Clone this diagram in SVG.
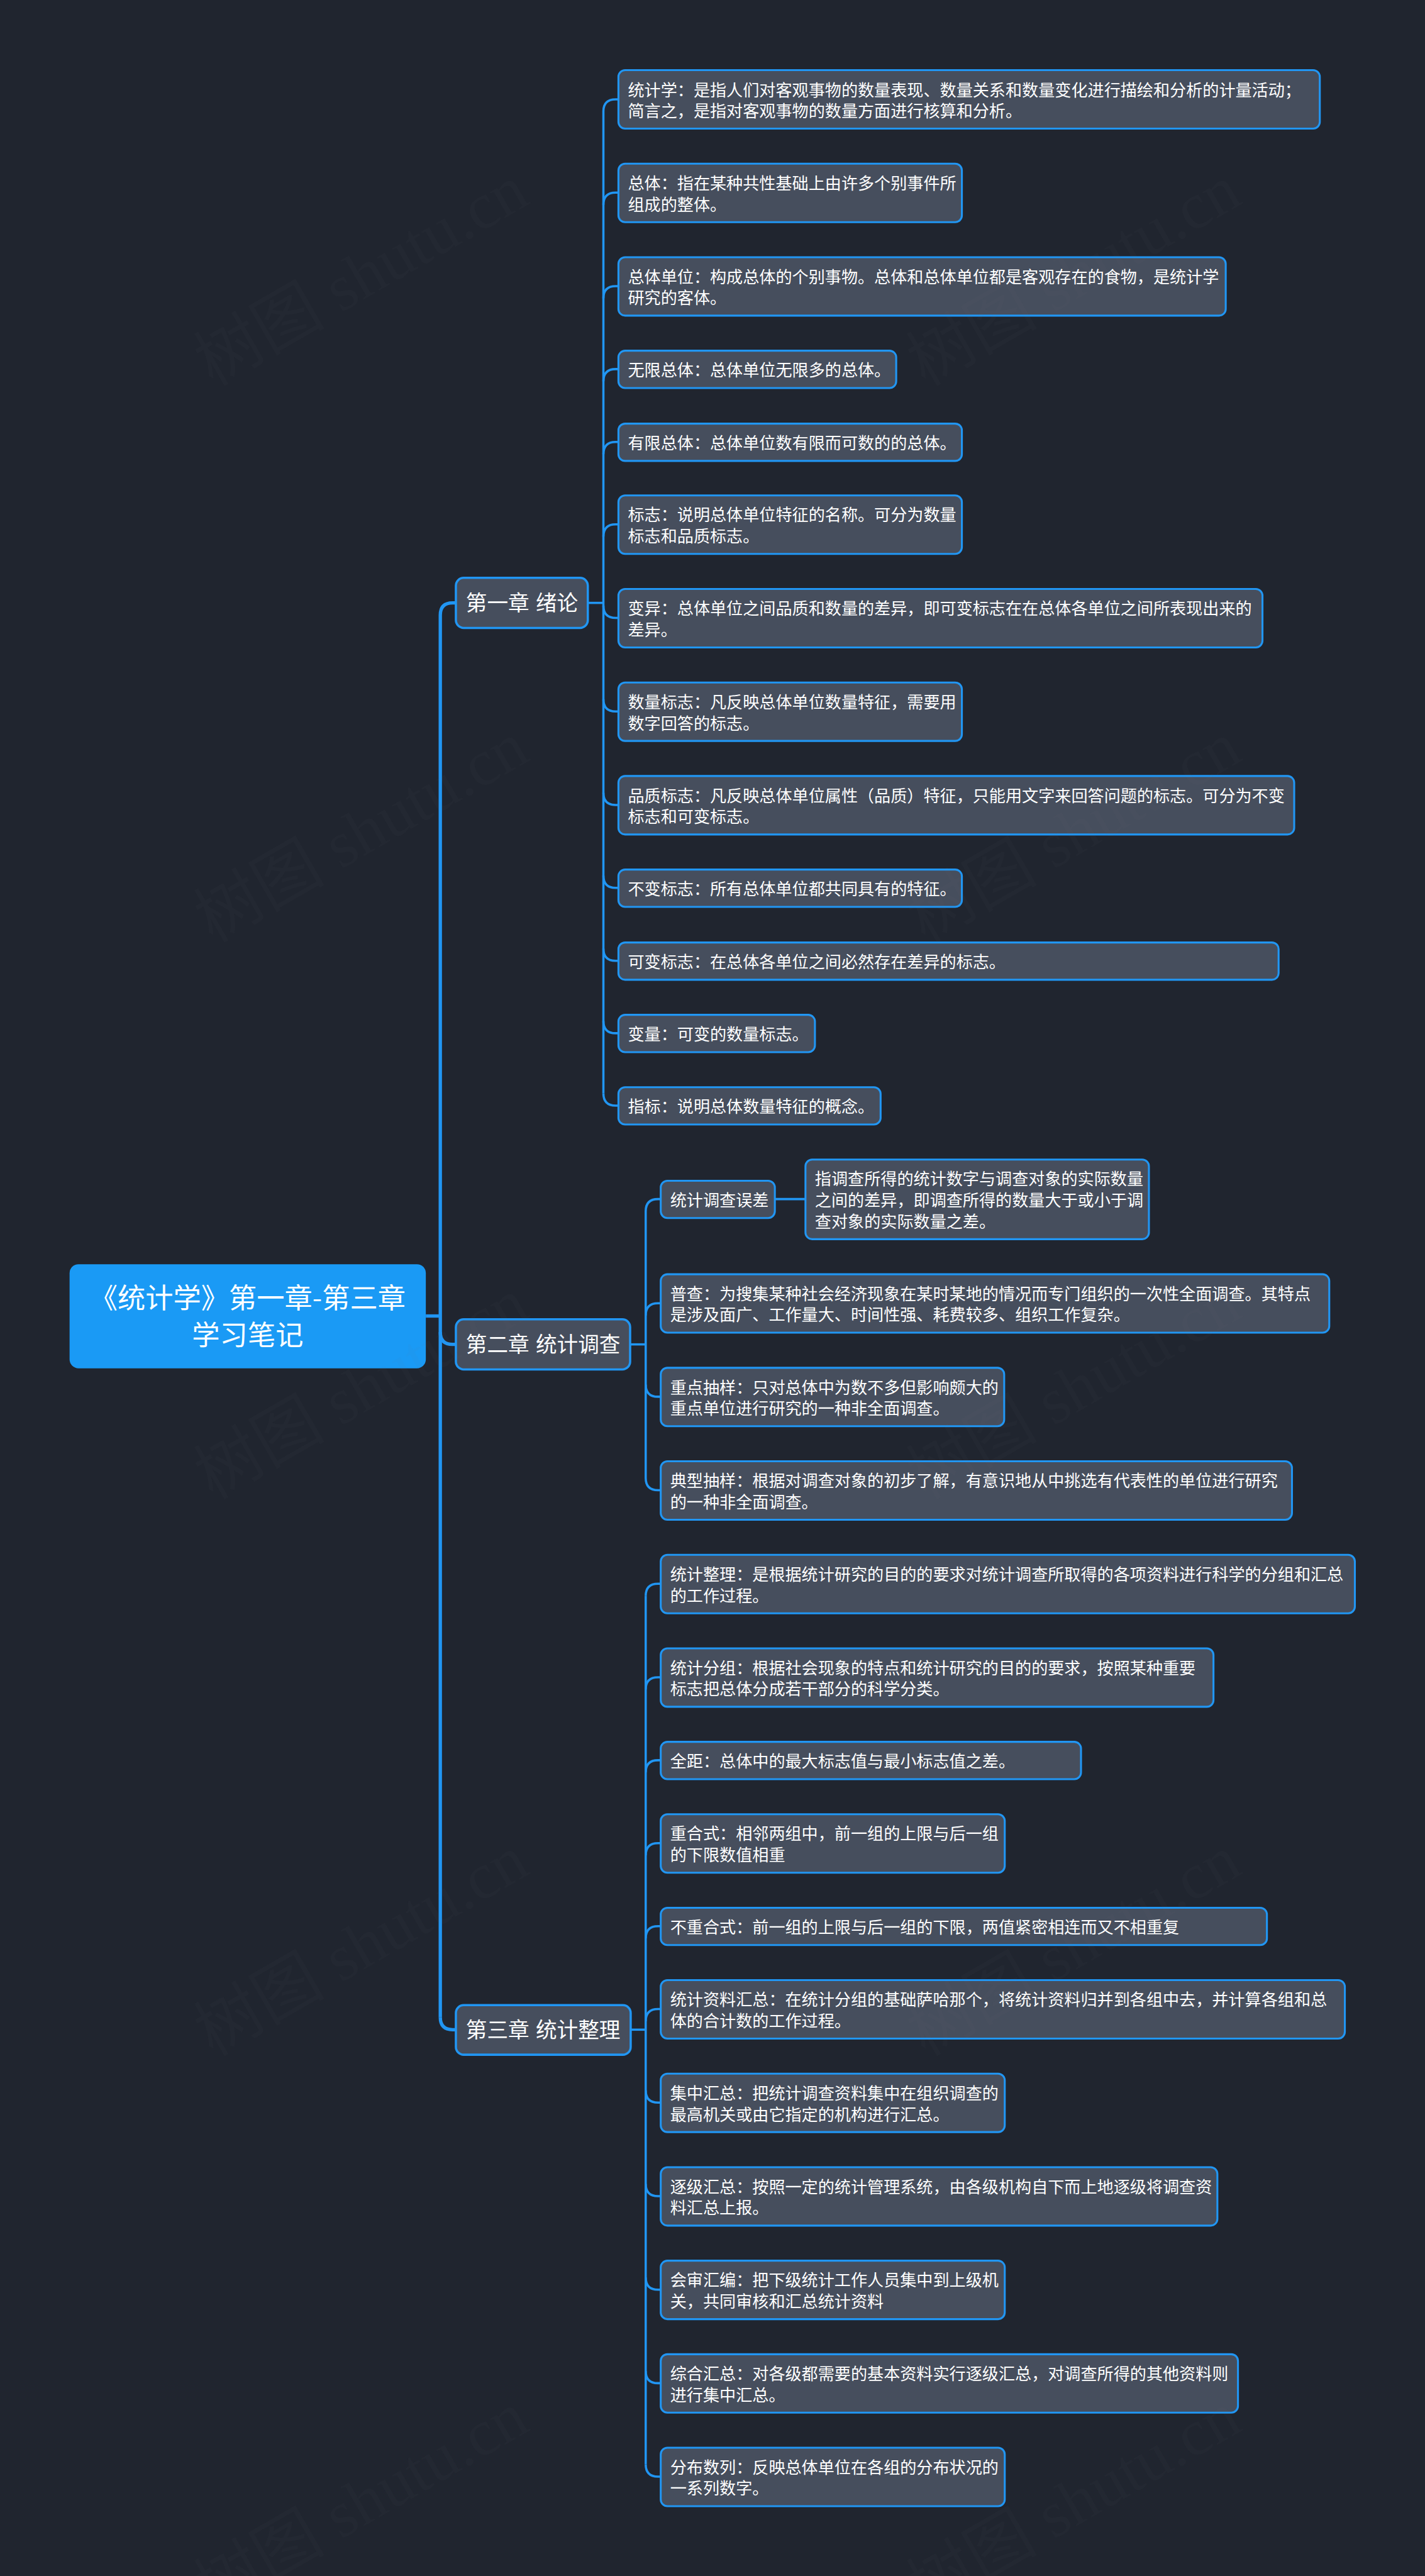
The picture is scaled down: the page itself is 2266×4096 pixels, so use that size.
<svg xmlns="http://www.w3.org/2000/svg" width="2266" height="4096" viewBox="0 0 2266 4096">
<style>
.bg{fill:#20252f}
.wm{font-family:"Liberation Serif","Noto Sans CJK SC",serif;font-size:118px;fill:#808080;fill-opacity:.04}
.c1{fill:none;stroke:#2196f3;stroke-width:6}
.c2{fill:none;stroke:#2196f3;stroke-width:4}
.n rect{fill:#464e5d;stroke:#2196f3;stroke-width:3.5}
.n text{font-family:"Noto Sans CJK SC","Noto Sans",sans-serif;font-size:29.5px;fill:#fff}
.t rect{fill:#464e5d;stroke:#2196f3;stroke-width:4}
.t text{font-family:"Noto Sans CJK SC","Noto Sans",sans-serif;font-size:38px;word-spacing:3px;fill:#fff}
.r rect{fill:#1a9af5}
.r text{font-family:"Noto Sans CJK SC","Noto Sans",sans-serif;font-size:50px;fill:#fff;text-anchor:middle}
</style>
<rect class="bg" width="2266" height="4096"/>
<g transform="scale(0.88516)">
<g id="connectors">
<path class="c1" d="M765 2364H791"/>
<path class="c1" d="M791 1105V3624"/>
<path class="c1" d="M791 1105Q791 1083 813 1083H819"/>
<path class="c1" d="M791 2393Q791 2415 813 2415H819"/>
<path class="c1" d="M791 3624Q791 3646 813 3646H819"/>
<path class="c2" d="M1056 1083H1084"/>
<path class="c2" d="M1084 200V1964"/>
<path class="c2" d="M1084 200Q1084 178.500 1106 178.500H1111"/>
<path class="c2" d="M1084 368Q1084 346 1106 346H1111"/>
<path class="c2" d="M1084 536Q1084 514 1106 514H1111"/>
<path class="c2" d="M1084 685Q1084 663 1106 663H1111"/>
<path class="c2" d="M1084 816Q1084 794 1106 794H1111"/>
<path class="c2" d="M1084 964Q1084 942 1106 942H1111"/>
<path class="c2" d="M1084 1088Q1084 1110 1106 1110H1111"/>
<path class="c2" d="M1084 1256Q1084 1278 1106 1278H1111"/>
<path class="c2" d="M1084 1424Q1084 1446 1106 1446H1111"/>
<path class="c2" d="M1084 1573Q1084 1595 1106 1595H1111"/>
<path class="c2" d="M1084 1704Q1084 1726 1106 1726H1111"/>
<path class="c2" d="M1084 1834Q1084 1856 1106 1856H1111"/>
<path class="c2" d="M1084 1964Q1084 1986 1106 1986H1111"/>
<path class="c2" d="M1132 2415H1160"/>
<path class="c2" d="M1160 2176V2655"/>
<path class="c2" d="M1160 2176Q1160 2154 1182 2154H1187"/>
<path class="c2" d="M1160 2363Q1160 2341 1182 2341H1187"/>
<path class="c2" d="M1160 2487Q1160 2509 1182 2509H1187"/>
<path class="c2" d="M1160 2655Q1160 2677 1182 2677H1187"/>
<path class="c2" d="M1392 2154H1447"/>
<path class="c2" d="M1133 3646H1160"/>
<path class="c2" d="M1160 2867V4427"/>
<path class="c2" d="M1160 2867Q1160 2845 1182 2845H1187"/>
<path class="c2" d="M1160 3035Q1160 3013 1182 3013H1187"/>
<path class="c2" d="M1160 3184Q1160 3162 1182 3162H1187"/>
<path class="c2" d="M1160 3333Q1160 3311 1182 3311H1187"/>
<path class="c2" d="M1160 3482Q1160 3460 1182 3460H1187"/>
<path class="c2" d="M1160 3631Q1160 3609 1182 3609H1187"/>
<path class="c2" d="M1160 3755Q1160 3777 1182 3777H1187"/>
<path class="c2" d="M1160 3923Q1160 3945 1182 3945H1187"/>
<path class="c2" d="M1160 4091Q1160 4113 1182 4113H1187"/>
<path class="c2" d="M1160 4259Q1160 4281 1182 4281H1187"/>
<path class="c2" d="M1160 4427Q1160 4449 1182 4449H1187"/>
</g>

<g id="root" class="r"><rect x="125" y="2271" width="640" height="187" rx="16"/><text x="445" y="2350">《统计学》第一章-第三章</text><text x="445" y="2417">学习笔记</text></g>

<g id="ch1" class="t"><rect x="819" y="1038" width="237" height="90" rx="14"/><text x="837" y="1097">第一章 绪论</text></g>
<g id="ch2" class="t"><rect x="819" y="2370" width="313" height="90" rx="14"/><text x="837" y="2429">第二章 统计调查</text></g>
<g id="ch3" class="t"><rect x="819" y="3602" width="314" height="89" rx="14"/><text x="837" y="3660">第三章 统计整理</text></g>

<g id="a1" class="n"><rect x="1111" y="126" width="1260" height="105" rx="12"/><text x="1128" y="172.500">统计学：是指人们对客观事物的数量表现、数量关系和数量变化进行描绘和分析的计量活动；</text><text x="1128" y="210.500">简言之，是指对客观事物的数量方面进行核算和分析。</text></g>
<g id="a2" class="n"><rect x="1111" y="294" width="617" height="105" rx="12"/><text x="1128" y="340">总体：指在某种共性基础上由许多个别事件所</text><text x="1128" y="378">组成的整体。</text></g>
<g id="a3" class="n"><rect x="1111" y="462" width="1091" height="105" rx="12"/><text x="1128" y="508">总体单位：构成总体的个别事物。总体和总体单位都是客观存在的食物，是统计学</text><text x="1128" y="546">研究的客体。</text></g>
<g id="a4" class="n"><rect x="1111" y="630" width="499" height="67" rx="12"/><text x="1128" y="676">无限总体：总体单位无限多的总体。</text></g>
<g id="a5" class="n"><rect x="1111" y="761" width="617" height="67" rx="12"/><text x="1128" y="807">有限总体：总体单位数有限而可数的的总体。</text></g>
<g id="a6" class="n"><rect x="1111" y="890" width="617" height="105" rx="12"/><text x="1128" y="936">标志：说明总体单位特征的名称。可分为数量</text><text x="1128" y="974">标志和品质标志。</text></g>
<g id="a7" class="n"><rect x="1111" y="1058" width="1157" height="105" rx="12"/><text x="1128" y="1104">变异：总体单位之间品质和数量的差异，即可变标志在在总体各单位之间所表现出来的</text><text x="1128" y="1142">差异。</text></g>
<g id="a8" class="n"><rect x="1111" y="1226" width="617" height="105" rx="12"/><text x="1128" y="1272">数量标志：凡反映总体单位数量特征，需要用</text><text x="1128" y="1310">数字回答的标志。</text></g>
<g id="a9" class="n"><rect x="1111" y="1394" width="1214" height="105" rx="12"/><text x="1128" y="1440">品质标志：凡反映总体单位属性（品质）特征，只能用文字来回答问题的标志。可分为不变</text><text x="1128" y="1478">标志和可变标志。</text></g>
<g id="a10" class="n"><rect x="1111" y="1562" width="617" height="67" rx="12"/><text x="1128" y="1608">不变标志：所有总体单位都共同具有的特征。</text></g>
<g id="a11" class="n"><rect x="1111" y="1693" width="1186" height="67" rx="12"/><text x="1128" y="1739">可变标志：在总体各单位之间必然存在差异的标志。</text></g>
<g id="a12" class="n"><rect x="1111" y="1823" width="353" height="67" rx="12"/><text x="1128" y="1869">变量：可变的数量标志。</text></g>
<g id="a13" class="n"><rect x="1111" y="1953" width="471" height="67" rx="12"/><text x="1128" y="1999">指标：说明总体数量特征的概念。</text></g>

<g id="b1" class="n"><rect x="1187" y="2121" width="205" height="67" rx="12"/><text x="1204" y="2167">统计调查误差</text></g>
<g id="b1a" class="n"><rect x="1447" y="2083" width="617" height="143" rx="12"/><text x="1464" y="2129">指调查所得的统计数字与调查对象的实际数量</text><text x="1464" y="2167">之间的差异，即调查所得的数量大于或小于调</text><text x="1464" y="2205">查对象的实际数量之差。</text></g>
<g id="b2" class="n"><rect x="1187" y="2289" width="1201" height="105" rx="12"/><text x="1204" y="2335">普查：为搜集某种社会经济现象在某时某地的情况而专门组织的一次性全面调查。其特点</text><text x="1204" y="2373">是涉及面广、工作量大、时间性强、耗费较多、组织工作复杂。</text></g>
<g id="b3" class="n"><rect x="1187" y="2457" width="617" height="105" rx="12"/><text x="1204" y="2503">重点抽样：只对总体中为数不多但影响颇大的</text><text x="1204" y="2541">重点单位进行研究的一种非全面调查。</text></g>
<g id="b4" class="n"><rect x="1187" y="2625" width="1134" height="105" rx="12"/><text x="1204" y="2671">典型抽样：根据对调查对象的初步了解，有意识地从中挑选有代表性的单位进行研究</text><text x="1204" y="2709">的一种非全面调查。</text></g>

<g id="c1" class="n"><rect x="1187" y="2793" width="1247" height="105" rx="12"/><text x="1204" y="2839">统计整理：是根据统计研究的目的的要求对统计调查所取得的各项资料进行科学的分组和汇总</text><text x="1204" y="2877">的工作过程。</text></g>
<g id="c2" class="n"><rect x="1187" y="2961" width="993" height="105" rx="12"/><text x="1204" y="3007">统计分组：根据社会现象的特点和统计研究的目的的要求，按照某种重要</text><text x="1204" y="3045">标志把总体分成若干部分的科学分类。</text></g>
<g id="c3" class="n"><rect x="1187" y="3129" width="755" height="67" rx="12"/><text x="1204" y="3175">全距：总体中的最大标志值与最小标志值之差。</text></g>
<g id="c4" class="n"><rect x="1187" y="3259" width="618" height="105" rx="12"/><text x="1204" y="3305">重合式：相邻两组中，前一组的上限与后一组</text><text x="1204" y="3343">的下限数值相重</text></g>
<g id="c5" class="n"><rect x="1187" y="3427" width="1089" height="67" rx="12"/><text x="1204" y="3473">不重合式：前一组的上限与后一组的下限，两值紧密相连而又不相重复</text></g>
<g id="c6" class="n"><rect x="1187" y="3557" width="1229" height="105" rx="12"/><text x="1204" y="3603">统计资料汇总：在统计分组的基础萨哈那个，将统计资料归并到各组中去，并计算各组和总</text><text x="1204" y="3641">体的合计数的工作过程。</text></g>
<g id="c7" class="n"><rect x="1187" y="3725" width="618" height="105" rx="12"/><text x="1204" y="3771">集中汇总：把统计调查资料集中在组织调查的</text><text x="1204" y="3809">最高机关或由它指定的机构进行汇总。</text></g>
<g id="c8" class="n"><rect x="1187" y="3893" width="1000" height="105" rx="12"/><text x="1204" y="3939">逐级汇总：按照一定的统计管理系统，由各级机构自下而上地逐级将调查资</text><text x="1204" y="3977">料汇总上报。</text></g>
<g id="c9" class="n"><rect x="1187" y="4061" width="618" height="105" rx="12"/><text x="1204" y="4107">会审汇编：把下级统计工作人员集中到上级机</text><text x="1204" y="4145">关，共同审核和汇总统计资料</text></g>
<g id="c10" class="n"><rect x="1187" y="4229" width="1037" height="105" rx="12"/><text x="1204" y="4275">综合汇总：对各级都需要的基本资料实行逐级汇总，对调查所得的其他资料则</text><text x="1204" y="4313">进行集中汇总。</text></g>
<g id="c11" class="n"><rect x="1187" y="4397" width="618" height="105" rx="12"/><text x="1204" y="4443">分布数列：反映总体单位在各组的分布状况的</text><text x="1204" y="4481">一系列数字。</text></g>

<g id="watermark">
<text class="wm" transform="translate(382 695) rotate(-30)">树图 shutu.cn</text>
<text class="wm" transform="translate(1662 695) rotate(-30)">树图 shutu.cn</text>
<text class="wm" transform="translate(382 1695) rotate(-30)">树图 shutu.cn</text>
<text class="wm" transform="translate(1662 1695) rotate(-30)">树图 shutu.cn</text>
<text class="wm" transform="translate(382 2695) rotate(-30)">树图 shutu.cn</text>
<text class="wm" transform="translate(1662 2695) rotate(-30)">树图 shutu.cn</text>
<text class="wm" transform="translate(382 3695) rotate(-30)">树图 shutu.cn</text>
<text class="wm" transform="translate(1662 3695) rotate(-30)">树图 shutu.cn</text>
<text class="wm" transform="translate(382 4695) rotate(-30)">树图 shutu.cn</text>
<text class="wm" transform="translate(1662 4695) rotate(-30)">树图 shutu.cn</text>
</g>
</g>
</svg>
